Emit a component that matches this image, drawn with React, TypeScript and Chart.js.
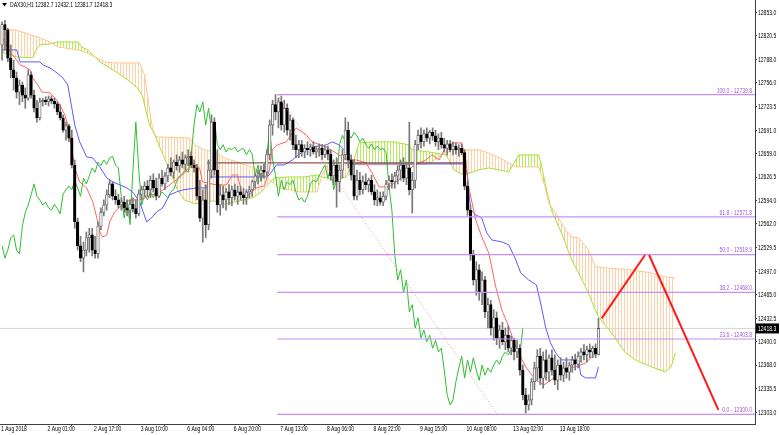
import React, { useEffect, useRef } from "react";
import { Chart, registerables } from "chart.js";

Chart.register(...registerables);

// ---------- OHLC data (H1 bars, index 0 = 1 Aug 2018) ----------
const barOpen = [
  12808,12836,12829,12790,12774,12763,12743,12753,12739,12735,
  12767,12739,12721,12708,12730,12732,12730,12734,12731,12727,
  12716,12708,12691,12697,12680,12643,12565,12532,12515,12526,
  12543,12547,12526,12521,12559,12578,12588,12602,12617,12600,
  12595,12588,12592,12584,12581,12589,12583,12576,12603,12609,
  12614,12609,12622,12611,12600,12625,12617,12628,12639,12633,
  12647,12642,12650,12644,12653,12655,12643,12639,12600,12570,
  12595,12561,12636,12702,12636,12588,12602,12595,12606,12598,
  12609,12600,12606,12602,12598,12606,12609,12620,12628,12631,
  12636,12633,12657,12698,12726,12716,12730,12698,12721,12691,
  12705,12671,12664,12671,12661,12666,12664,12668,12661,12664,
  12666,12657,12664,12658,12628,12643,12620,12636,12657,12691,
  12650,12629,12600,12622,12609,12620,12616,12622,12606,12595,
  12598,12592,12600,12617,12622,12620,12628,12636,12643,12625,
  12639,12609,12622,12671,12684,12675,12686,12680,12688,12683,
  12675,12680,12671,12666,12672,12664,12669,12664,12666,12660,
  12614,12581,12519,12485,12499,12468,12485,12441,12451,12419,
  12433,12405,12416,12400,12409,12391,12402,12386,12391,12361,
  12327,12313,12320,12345,12364,12380,12350,12375,12358,12378,
  12361,12347,12368,12354,12364,12358,12368,12375,12369,12380,
  12386,12382,12389,12386,12391,12382.7,
];
const barHigh = [
  12840,12842,12831,12808,12787,12771,12760,12757,12749,12774,
  12771,12746,12732,12735,12735,12737,12738,12738,12735,12730,
  12726,12712,12702,12699,12691,12650,12570,12545,12537,12551,
  12556,12556,12545,12565,12584,12595,12609,12622,12620,12609,
  12603,12598,12600,12595,12595,12598,12595,12609,12614,12620,
  12622,12628,12631,12625,12631,12636,12633,12644,12653,12650,
  12657,12655,12661,12657,12664,12661,12650,12644,12622,12609,
  12616,12650,12712,12708,12664,12616,12614,12611,12616,12614,
  12617,12614,12614,12611,12609,12614,12622,12631,12636,12642,
  12644,12664,12705,12732,12739.8,12735,12738,12732,12727,12712,
  12708,12684,12677,12677,12671,12675,12672,12675,12669,12672,
  12671,12669,12669,12664,12650,12653,12643,12664,12708,12702,
  12657,12650,12636,12633,12628,12631,12625,12629,12616,12609,
  12606,12606,12622,12628,12631,12633,12642,12650,12653,12647,
  12702,12633,12677,12691,12694,12691,12694,12691,12694,12691,
  12686,12688,12680,12677,12677,12675,12673,12671,12672,12664,
  12620,12588,12526,12510,12506,12496,12490,12460,12457,12444,
  12441,12423,12427,12419,12422,12408,12405,12402,12396,12368,
  12336,12327,12350,12372,12389,12391,12386,12389,12382,12389,
  12382,12375,12378,12372,12378,12372,12380,12383,12386,12391,
  12396,12394,12397,12394,12397,12432.1,
];
const barLow = [
  12787,12801,12785,12763,12746,12735,12726,12730,12721,12732,
  12735,12716,12702,12705,12724,12726,12724,12727,12721,12712,
  12705,12688,12677,12675,12639,12556,12526,12510,12496,12518,
  12523,12518,12515,12515,12554,12573,12581,12598,12595,12589,
  12584,12581,12578,12573,12570,12578,12570,12573,12595,12600,
  12600,12598,12606,12595,12598,12614,12609,12620,12628,12625,
  12636,12633,12639,12636,12642,12639,12633,12595,12565,12537,
  12543,12554,12625,12629,12578,12574,12584,12581,12588,12587,
  12595,12589,12595,12589,12589,12598,12600,12611,12617,12622,
  12625,12628,12650,12684,12705,12694,12691,12688,12684,12677,
  12664,12653,12653,12655,12653,12657,12655,12658,12653,12655,
  12650,12653,12650,12622,12616,12585,12606,12625,12650,12639,
  12622,12595,12595,12602,12603,12609,12606,12602,12588,12587,
  12588,12587,12595,12609,12611,12611,12617,12622,12620,12616,
  12602,12577,12611,12664,12666,12669,12675,12672,12677,12669,
  12664,12666,12661,12657,12661,12657,12658,12655,12657,12609,
  12574,12512,12478,12464,12457,12451,12433,12419,12409,12402,
  12396,12391,12396,12389,12386,12382,12375,12378,12354,12320,
  12302,12306,12313,12334,12347,12341,12336,12347,12345,12354,
  12341,12334,12347,12345,12350,12347,12358,12361,12364,12372,
  12375,12372,12378,12378,12378,12381.7,
];
const barClose = [
  12836,12829,12790,12774,12763,12743,12753,12739,12735,12767,
  12739,12721,12708,12730,12732,12730,12734,12731,12727,12716,
  12708,12691,12697,12680,12643,12565,12532,12515,12526,12543,
  12547,12526,12521,12559,12578,12588,12602,12617,12600,12595,
  12588,12592,12584,12581,12589,12583,12576,12603,12609,12614,
  12609,12622,12611,12600,12625,12617,12628,12639,12633,12647,
  12642,12650,12644,12653,12655,12643,12639,12600,12570,12595,
  12561,12636,12702,12636,12588,12602,12595,12606,12598,12609,
  12600,12606,12602,12598,12606,12609,12620,12628,12631,12636,
  12633,12657,12698,12726,12716,12730,12698,12721,12691,12705,
  12671,12664,12671,12661,12666,12664,12668,12661,12664,12666,
  12657,12664,12658,12628,12643,12620,12636,12657,12691,12650,
  12629,12600,12622,12609,12620,12616,12622,12606,12595,12598,
  12592,12600,12617,12622,12620,12628,12636,12643,12625,12639,
  12609,12622,12671,12684,12675,12686,12680,12688,12683,12675,
  12680,12671,12666,12672,12664,12669,12664,12666,12660,12614,
  12581,12519,12485,12499,12468,12485,12441,12451,12419,12433,
  12405,12416,12400,12409,12391,12402,12386,12391,12361,12327,
  12313,12320,12345,12364,12380,12350,12375,12358,12378,12361,
  12347,12368,12354,12364,12358,12368,12375,12369,12380,12386,
  12382,12389,12386,12391,12383,12418.3,
];

// ---------- Ichimoku lines, [bar index, price] ----------
const tenkan = [
  [0,12819.1],[2.7,12798.5],[4.5,12790.3],[6.2,12780.6],[7.9,12777.9],[9.6,12773.8],[10.6,12762.8],
  [12.3,12753.1],[13.7,12743.5],[16.5,12742.1],[18.2,12735.3],[19.9,12725.6],[21.6,12711.9],[22.6,12698.1],
  [24,12666.5],[25,12639],[26.7,12619.8],[29.1,12611.5],[31.2,12592.3],[32.6,12570.3],[33.6,12551],
  [34.6,12544.1],[36,12546.9],[37,12564.8],[38.7,12578.5],[40.5,12585.4],[43.9,12595],[47.3,12595],
  [50.7,12600.5],[54.2,12606],[57.6,12615.6],[62.1,12629.4],[65.5,12645.9],[67.9,12639],[68.9,12619.8],
  [73.7,12615.6],[77.1,12615.6],[79.2,12629.4],[80.9,12629.4],[82.6,12601.9],[85,12601.9],[87.4,12611.5],
  [90.2,12614.3],[91.9,12636.3],[92.9,12663.8],[94.6,12670.6],[97.7,12674.8],[101.1,12694],[104.6,12684.4],
  [106.6,12674.8],[111.4,12667.9],[114.8,12659.6],[118.3,12650],[121.7,12650],[125.1,12645.9],[127.2,12632.1],
  [129.6,12612.9],[133,12612.9],[136.4,12622.5],[140.9,12640.4],[143.3,12645.9],[145.7,12650],[147.8,12656.9],
  [150.2,12650],[152.6,12667.9],[154.6,12673.4],[158,12673.4],[159.4,12650],[160.4,12612.9],[162.8,12567.5],
  [164.9,12544.1],[167.3,12522.1],[169.7,12475.4],[171.8,12443.8],[174.2,12420.4],[176.6,12392.9],[180,12365.4],
  [183.4,12347.5],[186.2,12340.6],[190.3,12351.6],[193.7,12364],[197.1,12365.4],[200.6,12370.9],[204,12384.6],
  [205,12388.8],
];
const kijun = [
  [0,12801.3],[5.1,12801.3],[6.2,12784.8],[13,12784.8],[14.1,12780.6],[16.5,12776.5],[18.9,12769.6],
  [20.9,12762.8],[22.6,12753.1],[24,12721.5],[25,12698.1],[26.7,12674.8],[29.1,12654.1],[31.2,12652.8],
  [33.6,12640.4],[36,12625.3],[38.1,12619.8],[40.5,12615.6],[42.9,12611.5],[44.9,12606],[47.3,12592.3],
  [49.7,12564.8],[51.4,12570.3],[53.1,12578.5],[55.2,12584],[57.6,12601.9],[60,12606],[62.1,12608.8],
  [66.9,12611.5],[70.3,12611.5],[71.3,12626.6],[91.2,12626.6],[92.6,12633.5],[94.3,12643.1],[97,12643.1],
  [99.8,12650],[103.2,12661],[106.6,12667.9],[111.4,12670.6],[113.5,12674.8],[115.9,12670.6],[118.3,12661],
  [120,12644.5],[158.7,12644.5],[159.8,12632.1],[161.1,12581.3],[162.8,12574.4],[164.9,12570.3],[166.6,12549.6],
  [168.3,12540],[171.8,12537.3],[174.2,12533.1],[176.6,12512.5],[178.3,12494.6],[181,12485],[183.7,12478.1],
  [185.4,12447.9],[186.8,12420.4],[188.5,12398.4],[190.3,12384.6],[192.3,12375],[198.2,12375],[198.9,12354.4],
  [200.6,12350.3],[204,12350.3],[205,12365.4],
];
const spanA = [
  [0,12798.5],[2.7,12794.4],[5.1,12791.6],[10.6,12790.3],[11.7,12801.3],[13,12808.1],[16.5,12809.5],
  [19.2,12812.3],[26.1,12812.3],[27.4,12805.4],[29.5,12801.3],[31.9,12791.6],[33.6,12784.8],[37,12776.5],
  [39.8,12769.6],[43.2,12760],[46.6,12749],[48.3,12738],[49.4,12718.8],[50.7,12698.1],[52.5,12684.4],
  [54.9,12661],[57.6,12636.3],[60.3,12608.8],[62.7,12595],[66.2,12589.5],[69.6,12592.3],[73,12593.6],
  [76.4,12589.5],[79.9,12592.3],[83.3,12595],[86.7,12599.1],[89.1,12606],[91.2,12615.6],[93.6,12625.3],
  [98.7,12626.6],[103.9,12626.6],[108.3,12629.4],[110,12626.6],[114.2,12622.5],[118.3,12626.6],[121,12650],
  [122.7,12673.4],[127.9,12674.8],[134.7,12674.8],[139.9,12670.6],[140.9,12663.8],[146.7,12661],[152.6,12656.9],
  [153.6,12650],[155.3,12636.3],[158.7,12629.4],[163.9,12636.3],[167.3,12639],[170.7,12636.3],[174.2,12633.5],
  [176.6,12650],[177.6,12656.9],[184.4,12656.9],[185.4,12643],[186.8,12615],[188.9,12580],[192.3,12549.6],
  [195.8,12512.5],[200.6,12475.4],[205,12434.1],[209.5,12412.1],[214.3,12384.6],[217.7,12375],[223.2,12365.4],
  [228,12358.5],[230,12365.4],[231.4,12384.6],
];
const spanB = [
  [0,12828.8],[4.5,12828.8],[7.9,12824.6],[13,12817.8],[16.5,12812.3],[19.2,12805.4],[26.1,12801.3],
  [28.5,12798.5],[31.9,12791.6],[35.3,12784.8],[38.7,12783.4],[47.3,12783.4],[49,12766.9],[50.7,12718.8],
  [51.8,12691.3],[53.1,12681.6],[64.4,12680.3],[66.2,12670.6],[69.6,12663.8],[73,12661],[76.4,12652.8],
  [81.6,12645.9],[86.7,12639],[89.1,12633.5],[91.9,12622.5],[95.3,12611.5],[102.2,12606],[108.3,12606],
  [110,12629.4],[112.4,12645.9],[117.6,12645.9],[122.7,12643.1],[139.9,12643.1],[146.7,12644.5],[152.6,12661],
  [157,12663.8],[163.9,12663.8],[167.3,12659.6],[172.4,12650],[176.6,12640.4],[184.4,12640.4],[186.5,12615],
  [187.9,12590.9],[190.3,12577.1],[193.7,12553.8],[195.8,12544.1],[198.2,12542.8],[201.6,12526.3],[204,12502.9],
  [207.4,12501.5],[216.3,12498.8],[223.2,12494.6],[228,12489.1],[231.4,12487.8],
];

// ---------- axes ----------
const yTicks = [12853.0,12820.5,12788.0,12756.0,12723.5,12691.0,12659.0,12626.5,12594.0,
  12562.0,12529.5,12497.0,12465.0,12432.5,12400.0,12368.0,12335.5,12303.0];
const xTickBars = [0,16,32,48,64,80,96,112,128,144,160,176,192];
const xTickLabels = ["1 Aug 2018","2 Aug 01:00","2 Aug 17:00","3 Aug 10:00","6 Aug 04:00",
  "6 Aug 20:00","7 Aug 13:00","8 Aug 06:00","8 Aug 22:00","9 Aug 15:00","10 Aug 08:00",
  "13 Aug 02:00","13 Aug 18:00"];

// ---------- drawings ----------
const fibLevels = [100.0, 61.8, 50.0, 38.2, 23.6, 0.0];
const fibPrices = [12739.8, 12571.8, 12519.9, 12468.0, 12403.8, 12300.0];
const fibAnchor = [[94.6, 12739.8], [170.2, 12300.0]];
const hLine = [[70.5, 12645.9], [159.6, 12645.9]];
const arrowUp = [[206.1, 12432.2], [221.0, 12519.3]];
const arrowDown = [[222.4, 12519.3], [246.2, 12306.2]];
const lastPrice = 12418.3;
const headerText = "DAX30,H1 12382.7 12432.1 12381.7 12418.3";

const X_MIN = -0.69;
const X_MAX = 258.8;
const Y_MIN = 12286.9;
const Y_MAX = 12869.9;
const FONT = "7px 'Liberation Sans', Arial, sans-serif";
const SQUEEZE = 0.72;

const pts = (a: number[][]) => a.map(([x, y]) => ({ x, y }));

function squeezedText(ctx: CanvasRenderingContext2D, text: string, x: number, y: number, align: CanvasTextAlign) {
  ctx.save();
  ctx.translate(x, y);
  ctx.scale(SQUEEZE, 1);
  ctx.textAlign = align;
  ctx.fillText(text, 0, 0);
  ctx.restore();
}

export default function App() {
  const ref = useRef<HTMLCanvasElement>(null);

  useEffect(() => {
    const canvas = ref.current!;
    const hatch = (color: string) => {
      const c = document.createElement("canvas");
      c.width = 3;
      c.height = 4;
      const g = c.getContext("2d")!;
      g.fillStyle = color;
      g.fillRect(0, 0, 1, 4);
      return g.createPattern(c, "repeat")!;
    };
    const greenHatch = hatch("#b6ec5a");
    const orangeHatch = hatch("#ffd0a4");

    const idx = barClose.map((_, i) => i);
    const wicks = idx.map((i) => ({ x: i, y: [barLow[i], barHigh[i]] }));
    const bodies = idx.map((i) => ({ x: i, y: [barOpen[i], barClose[i]] }));
    const bull = idx.map((i) => barClose[i] >= barOpen[i]);
    const chikou = idx.filter((i) => i >= 26).map((i) => ({ x: i - 26, y: barClose[i] }));

    const line = (data: any[], color: string, width: number, extra: any = {}) => ({
      type: "line",
      data,
      borderColor: color,
      borderWidth: width,
      pointRadius: 0,
      fill: false,
      tension: 0,
      ...extra,
    });

    const datasets: any[] = [
      line(pts([[X_MIN, lastPrice], [X_MAX, lastPrice]]), "#d4d4d4", 1, { order: 40 }),
      line(pts(spanA), "#a6e03a", 1, { order: 30, fill: { target: 2, above: greenHatch, below: orangeHatch } }),
      line(pts(spanB), "#ffc68a", 1, { order: 29 }),
      line(chikou, "#2fbf2f", 1, { order: 10 }),
      line(pts(kijun), "#5a5aff", 1, { order: 9 }),
      line(pts(tenkan), "#ff6464", 1, { order: 8 }),
      line(pts(hLine), "#7a2a2a", 1, { order: 7 }),
      {
        type: "bar",
        data: wicks,
        backgroundColor: "#787878",
        barThickness: 1,
        grouped: false,
        order: 6,
      },
      {
        type: "bar",
        data: bodies,
        backgroundColor: bull.map((b) => (b ? "#f4f4f4" : "#000000")),
        borderColor: bull.map((b) => (b ? "#5a5a5a" : "#000000")),
        borderWidth: 0.8,
        borderSkipped: false,
        barThickness: 2.6,
        minBarLength: 1,
        grouped: false,
        order: 5,
      },
      ...fibPrices.map((p) => line(pts([[fibAnchor[0][0], p], [X_MAX, p]]), "#c88ef2", 1.2, { order: 4 })),
      line(pts(fibAnchor), "#ff8c8c", 1, { order: 3, borderDash: [1, 2] }),
      line(pts(arrowUp), "#ff1a1a", 2, { order: 1 }),
      line(pts(arrowDown), "#ff1a1a", 2, { order: 1 }),
    ];

    const overlay = {
      id: "overlay",
      afterDatasetsDraw(chart: any) {
        const { ctx, chartArea, scales } = chart;
        ctx.save();
        ctx.font = FONT;
        ctx.fillStyle = "#a35ad8";
        ctx.textBaseline = "bottom";
        fibLevels.forEach((lv, k) => {
          const py = scales.y.getPixelForValue(fibPrices[k]);
          squeezedText(ctx, `${lv.toFixed(1)} - ${fibPrices[k].toFixed(1)}`, chartArea.right - 3, py - 0.5, "right");
        });
        ctx.restore();
      },
      afterDraw(chart: any) {
        const { ctx, chartArea, scales } = chart;
        ctx.save();
        ctx.font = FONT;
        ctx.fillStyle = "#000";
        ctx.textBaseline = "middle";
        // y-axis labels
        scales.y.ticks.forEach((t: any) => {
          squeezedText(ctx, Number(t.value).toFixed(1), chartArea.right + 3, scales.y.getPixelForValue(t.value) + 0.5, "left");
        });
        // x-axis labels
        scales.x.ticks.forEach((t: any) => {
          const k = xTickBars.indexOf(Number(t.value));
          if (k >= 0) squeezedText(ctx, xTickLabels[k], scales.x.getPixelForValue(t.value) - 1, chartArea.bottom + 5.5, "left");
        });
        // header
        ctx.beginPath();
        ctx.moveTo(chartArea.left + 2, 3);
        ctx.lineTo(chartArea.left + 7, 3);
        ctx.lineTo(chartArea.left + 4.5, 6.5);
        ctx.closePath();
        ctx.fill();
        squeezedText(ctx, headerText, chartArea.left + 10, 5.5, "left");
        // last price box
        const py = scales.y.getPixelForValue(lastPrice);
        ctx.fillStyle = "#000";
        ctx.fillRect(chartArea.right + 1, py - 5, 23, 10);
        ctx.fillStyle = "#fff";
        squeezedText(ctx, lastPrice.toFixed(1), chartArea.right + 3, py + 0.5, "left");
        ctx.restore();
      },
    };

    const chart = new Chart(canvas, {
      type: "bar",
      data: { datasets },
      options: {
        animation: false,
        responsive: false,
        devicePixelRatio: 1,
        events: [],
        layout: { autoPadding: false, padding: 0 },
        plugins: { legend: { display: false }, tooltip: { enabled: false } },
        scales: {
          x: {
            type: "linear",
            position: "bottom",
            min: X_MIN,
            max: X_MAX,
            offset: false,
            grid: { display: true, drawOnChartArea: false, drawTicks: true, tickLength: 2, color: "#404040" },
            border: { display: true, color: "#404040", width: 1 },
            afterBuildTicks: (s: any) => {
              s.ticks = xTickBars.map((v) => ({ value: v }));
            },
            afterFit: (s: any) => {
              s.height = 11;
            },
            ticks: { display: false, autoSkip: false, maxRotation: 0 },
          },
          y: {
            type: "linear",
            position: "right",
            min: Y_MIN,
            max: Y_MAX,
            grid: { display: true, drawOnChartArea: false, drawTicks: true, tickLength: 2, color: "#404040" },
            border: { display: true, color: "#404040", width: 1 },
            afterBuildTicks: (s: any) => {
              s.ticks = yTicks.map((v) => ({ value: v }));
            },
            afterFit: (s: any) => {
              s.width = 25;
            },
            ticks: { display: false, autoSkip: false },
          },
        },
      } as any,
      plugins: [overlay],
    } as any);

    return () => chart.destroy();
  }, []);

  return (
    <div style={{ position: "fixed", left: 0, top: 0, width: 780, height: 435, background: "#fff" }}>
      <canvas ref={ref} width={780} height={435} style={{ display: "block", width: 780, height: 435 }} />
    </div>
  );
}
